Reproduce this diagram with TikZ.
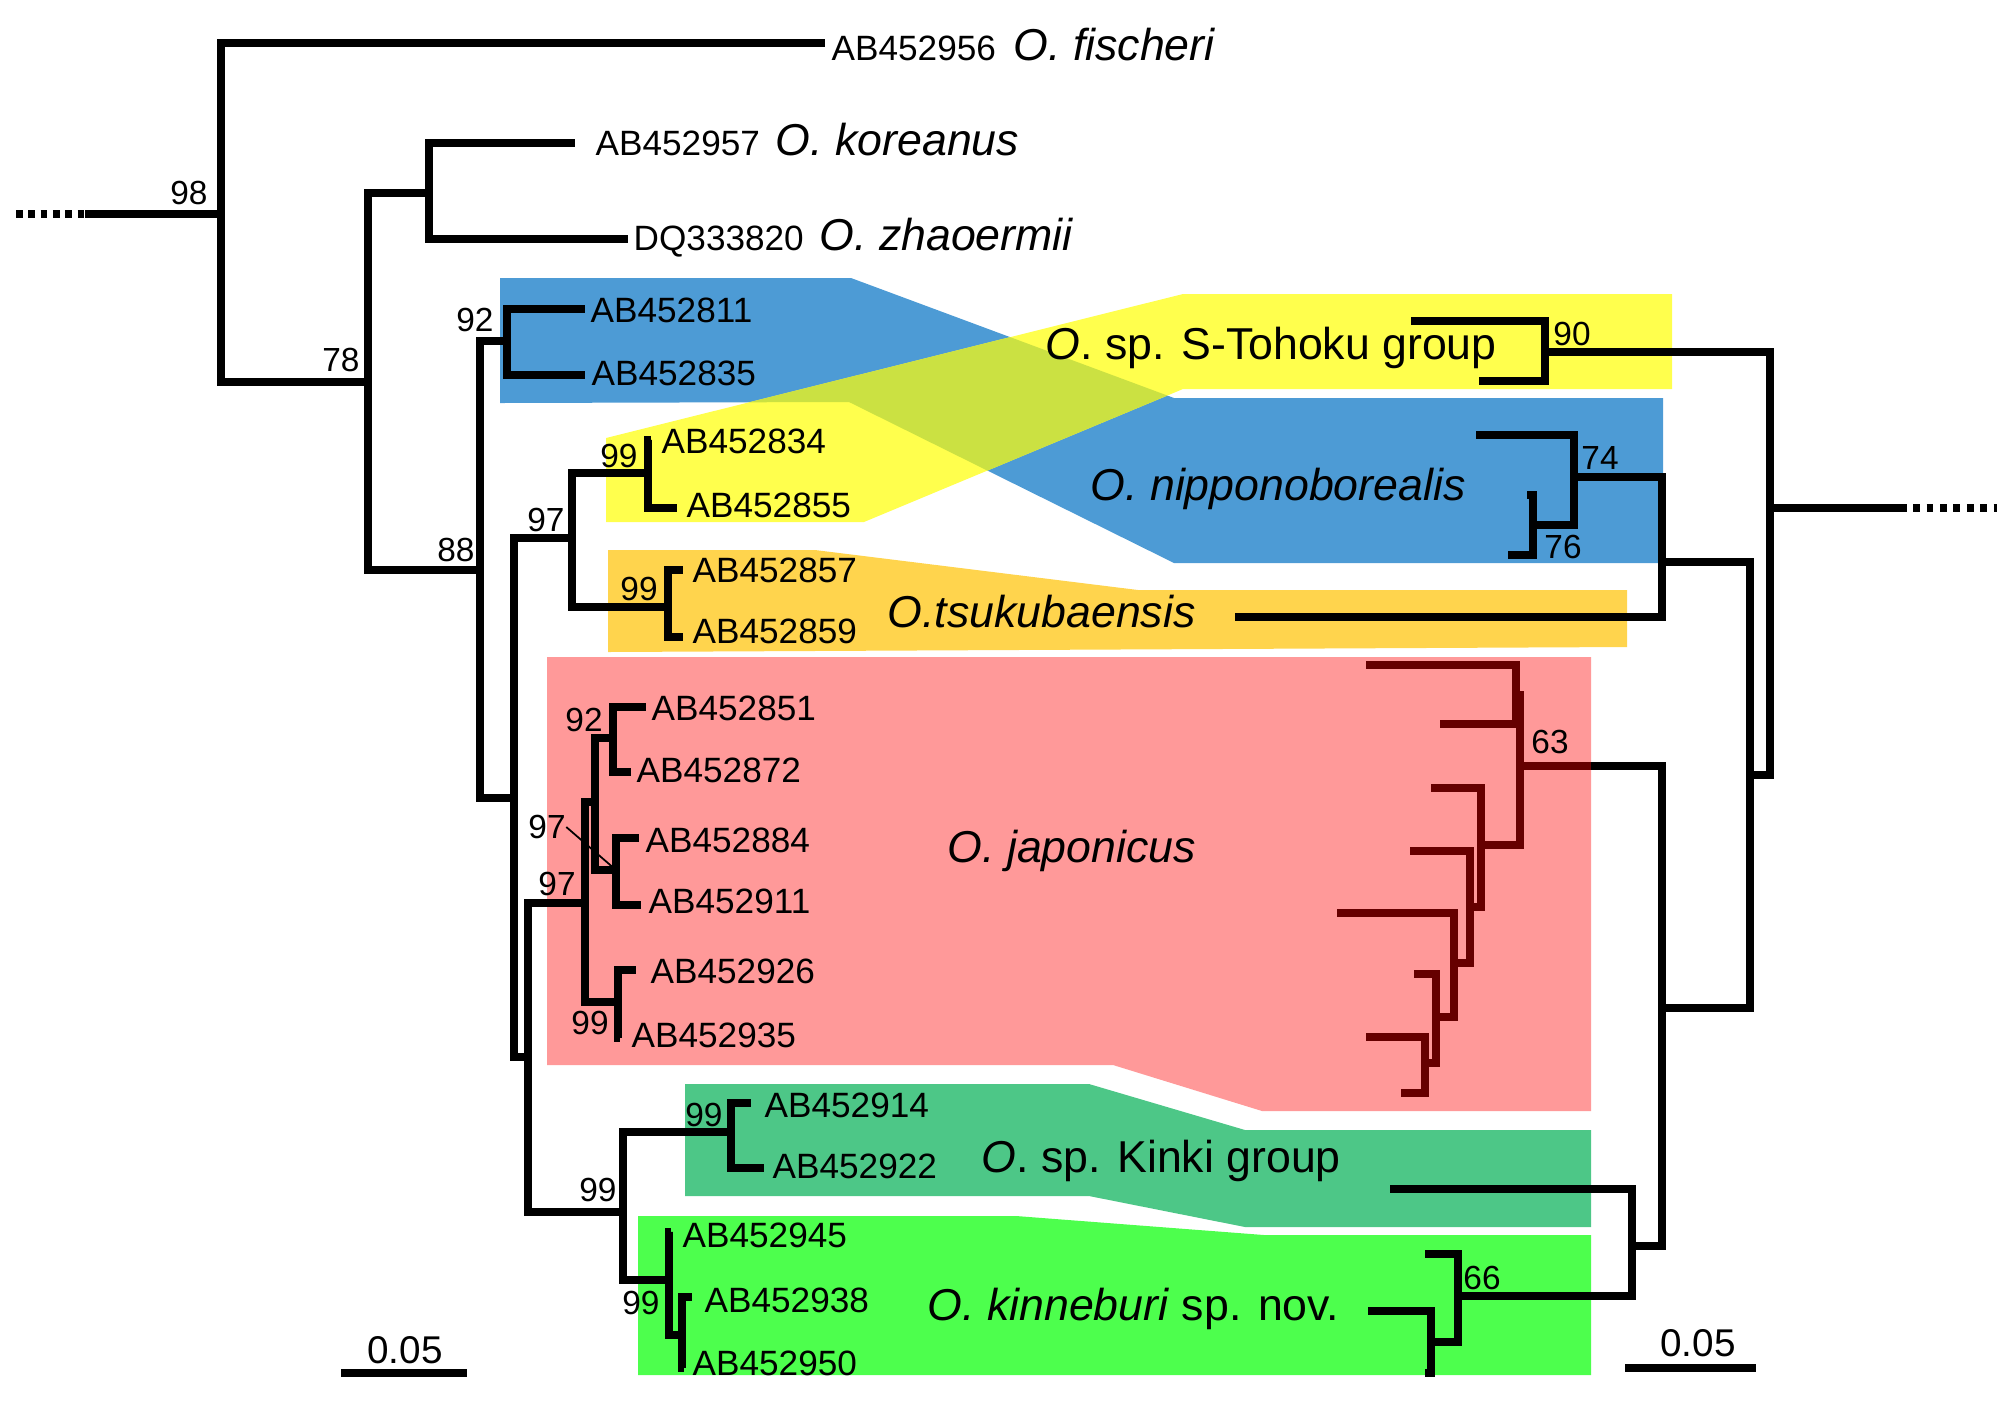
\documentclass[tikz,border=0pt]{standalone}
\usepackage{fontspec}
\setmainfont{Liberation Sans}
\usepackage{tikz}
\newcommand{\spsize}{\fontsize{12.7}{15}\selectfont}

\begin{document}
\begin{tikzpicture}[x=0.01cm,y=-0.01cm,
  br/.style={line width=2.1pt,line join=miter},
  brd/.style={br,draw=cdark},
  lead/.style={line width=0.5pt},
  ab/.style={inner sep=0,font=\fontsize{10}{12}\selectfont},
  spn/.style={inner sep=0,font=\spsize},
  bs/.style={inner sep=0,font=\fontsize{9.5}{11}\selectfont},
  sc/.style={inner sep=0,font=\fontsize{11}{13}\selectfont}]
\definecolor{cblue}{RGB}{77,155,213}
\definecolor{cyel}{RGB}{255,255,77}
\definecolor{cmix}{RGB}{203,225,66}
\definecolor{corg}{RGB}{255,212,77}
\definecolor{cred}{RGB}{255,153,153}
\definecolor{cteal}{RGB}{77,199,135}
\definecolor{cgrn}{RGB}{77,255,77}
\definecolor{cdark}{RGB}{102,0,0}
\useasboundingbox (0,0) rectangle (2008,1411);

% coloured bands
\fill[cblue] (500,278) -- (851,278) -- (1174,398) -- (1663,398) -- (1663,563) -- (1174,563) -- (849,402) -- (500,403) -- cycle;
\fill[cyel] (606,438) -- (1183,294) -- (1672,294) -- (1672,389) -- (1183,389) -- (864,522) -- (606,522) -- cycle;
\begin{scope}
\clip (500,278) -- (851,278) -- (1174,398) -- (1663,398) -- (1663,563) -- (1174,563) -- (849,402) -- (500,403) -- cycle;
\fill[cmix] (606,438) -- (1183,294) -- (1672,294) -- (1672,389) -- (1183,389) -- (864,522) -- (606,522) -- cycle;
\end{scope}
\fill[corg] (608,550) -- (815,550) -- (1138,590) -- (1627,590) -- (1627,647) -- (608,652) -- cycle;
\fill[cred] (547,657) -- (1591,657) -- (1591,1111) -- (1262,1111) -- (1113,1065) -- (547,1065) -- cycle;
\fill[cteal] (685,1084) -- (1089,1084) -- (1245,1130) -- (1591,1130) -- (1591,1227) -- (1245,1227) -- (1089,1196) -- (685,1196) -- cycle;
\fill[cgrn] (638,1216) -- (1016,1216) -- (1264,1235) -- (1591,1235) -- (1591,1375) -- (638,1375) -- cycle;

% left tree
\coordinate (rL0) at (16,214);
\coordinate (rL1) at (85,214);
\coordinate (n98) at (221,214);
\coordinate (tfis) at (825,43);
\coordinate (n78) at (368,382);
\coordinate (nkz) at (429,193);
\coordinate (tkor) at (575,143);
\coordinate (tzha) at (628,239);
\coordinate (n88) at (480,570);
\coordinate (n92) at (507,341);
\coordinate (t811) at (585,309);
\coordinate (t835) at (585,375);
\coordinate (nin) at (514,798);
\coordinate (n97) at (572,538);
\coordinate (n99y) at (648,473);
\coordinate (t834) at (651,440);
\coordinate (t855) at (677,508);
\coordinate (n99o) at (668,607);
\coordinate (t857) at (683,570);
\coordinate (t859) at (683,637);
\coordinate (nlow) at (528,1057);
\coordinate (njap) at (585,903);
\coordinate (nj97) at (595,802);
\coordinate (nj92) at (613,738);
\coordinate (t851) at (646,707);
\coordinate (t872) at (631,772);
\coordinate (nj84) at (616,870);
\coordinate (t884) at (639,838);
\coordinate (t911) at (641,905);
\coordinate (nj99) at (618,1002);
\coordinate (t926) at (636,970);
\coordinate (t935) at (620,1038);
\coordinate (nkk) at (623,1212);
\coordinate (nkin) at (731,1132);
\coordinate (t914) at (751,1103);
\coordinate (t922) at (764,1168);
\coordinate (nneb) at (669,1280);
\coordinate (t945) at (671,1232);
\coordinate (nneb2) at (682,1335);
\coordinate (t938) at (692,1297);
\coordinate (t950) at (684,1368);

\draw[line width=2.1pt,dash pattern=on 1.9pt off 1.6pt] (rL0) -- (rL1);
\draw[br] (rL1) -- (n98);
\foreach \p/\c in {n98/tfis,n98/n78,n78/nkz,nkz/tkor,nkz/tzha,n78/n88,n88/n92,
  n92/t811,n92/t835,n88/nin,nin/n97,n97/n99y,n99y/t834,n99y/t855,n97/n99o,
  n99o/t857,n99o/t859,nin/nlow,nlow/njap,njap/nj97,nj97/nj92,nj92/t851,
  nj92/t872,nj97/nj84,nj84/t884,nj84/t911,njap/nj99,nj99/t926,nj99/t935,
  nlow/nkk,nkk/nkin,nkin/t914,nkin/t922,nkk/nneb,nneb/t945,nneb/nneb2,
  nneb2/t938,nneb2/t950}
  \draw[br] (\p) |- (\c);

% right tree
\coordinate (rR1) at (1900,508);
\coordinate (rR0) at (1997,508);
\coordinate (nR) at (1770,508);
\coordinate (nst) at (1545,352);
\coordinate (tst1) at (1411,321);
\coordinate (tst2) at (1479,381);
\coordinate (nR2) at (1750,775);
\coordinate (nnt) at (1662,562);
\coordinate (nnip) at (1574,477);
\coordinate (tnp1) at (1476,435);
\coordinate (nn76) at (1533,525);
\coordinate (tnp2) at (1527,495);
\coordinate (tnp3) at (1508,555);
\coordinate (ttsu) at (1235,617);
\coordinate (njk) at (1662,1008);
\coordinate (n63) at (1520,766);
\coordinate (e63) at (1591,766);
\coordinate (nja) at (1516,695);
\coordinate (tja1) at (1366,665);
\coordinate (tja2) at (1440,724);
\coordinate (njc) at (1481,845);
\coordinate (tjc) at (1431,788);
\coordinate (njd) at (1470,907);
\coordinate (tjd) at (1410,851);
\coordinate (nje) at (1454,963);
\coordinate (tje) at (1337,913);
\coordinate (njf) at (1436,1017);
\coordinate (tjf) at (1414,974);
\coordinate (njg) at (1425,1063);
\coordinate (tjg1) at (1366,1037);
\coordinate (tjg2) at (1401,1093);
\coordinate (nkk2) at (1632,1246);
\coordinate (tkin) at (1390,1189);
\coordinate (n66) at (1458,1296);
\coordinate (tkb1) at (1425,1254);
\coordinate (nkb) at (1431,1342);
\coordinate (tkb2) at (1368,1311);
\coordinate (tkb3) at (1425,1373);

\draw[br] (nR) -- (rR1);
\draw[line width=2.1pt,dash pattern=on 1.9pt off 1.9pt] (rR1) -- (rR0);
\foreach \p/\c in {nR/nst,nst/tst1,nst/tst2,nR/nR2,nR2/nnt,nnt/nnip,nnip/tnp1,
  nnip/nn76,nn76/tnp2,nn76/tnp3,nnt/ttsu,nR2/njk,njk/n63,njk/nkk2,nkk2/tkin,
  nkk2/n66,n66/tkb1,n66/nkb,nkb/tkb2,nkb/tkb3}
  \draw[br] (\p) |- (\c);
\draw[brd] (n63) -- (e63);
\foreach \p/\c in {n63/nja,nja/tja1,nja/tja2,n63/njc,njc/tjc,njc/njd,njd/tjd,
  njd/nje,nje/tje,nje/njf,njf/tjf,njf/njg,njg/tjg1,njg/tjg2}
  \draw[brd] (\p) |- (\c);

% tip labels
\node[ab,anchor=base west] (lfis) at (831,60) {AB452956\hspace{5pt}{\spsize\itshape O. fischeri}};
\node[ab,anchor=base west] (lkor) at (595,155) {AB452957\hspace{4.5pt}{\spsize\itshape O. koreanus}};
\node[ab,anchor=base west] (lzha) at (633,250) {DQ333820\hspace{4.5pt}{\spsize\itshape O. zhaoermii}};
\node[ab,anchor=base west] (l811) at (590,322) {AB452811};
\node[ab,anchor=base west] (l835) at (591,385) {AB452835};
\node[ab,anchor=base west] (l834) at (661,453) {AB452834};
\node[ab,anchor=base west] (l855) at (686,517) {AB452855};
\node[ab,anchor=base west] (l857) at (692,582) {AB452857};
\node[ab,anchor=base west] (l859) at (692,643) {AB452859};
\node[ab,anchor=base west] (l851) at (651,720) {AB452851};
\node[ab,anchor=base west] (l872) at (636,782) {AB452872};
\node[ab,anchor=base west] (l884) at (645,852) {AB452884};
\node[ab,anchor=base west] (l911) at (648,913) {AB452911};
\node[ab,anchor=base west] (l926) at (650,983) {AB452926};
\node[ab,anchor=base west] (l935) at (631,1047) {AB452935};
\node[ab,anchor=base west] (l914) at (764,1117) {AB452914};
\node[ab,anchor=base west] (l922) at (772,1178) {AB452922};
\node[ab,anchor=base west] (l945) at (682,1247) {AB452945};
\node[ab,anchor=base west] (l938) at (704,1312) {AB452938};
\node[ab,anchor=base west] (l950) at (692,1375) {AB452950};

% group names
\node[spn,anchor=base west] (gst) at (1045,359) {\textit{O}. sp. S-Tohoku group};
\node[spn,anchor=base west] (gnip) at (1090,500) {\textit{O. nipponoborealis}};
\node[spn,anchor=base west] (gtsu) at (887,627) {\textit{O.tsukubaensis}};
\node[spn,anchor=base west] (gjap) at (947,862) {\textit{O. japonicus}};
\node[spn,anchor=base west] (gkin) at (981,1172) {\textit{O}. sp. Kinki group};
\node[spn,anchor=base west] (gneb) at (927,1320) {\textit{O. kinneburi} sp. nov.};

% bootstrap values
\node[bs] (b98) at (189,193) {98};
\node[bs] (b78) at (341,360) {78};
\node[bs] (b92) at (475,320) {92};
\node[bs] (b88) at (456,550) {88};
\node[bs] (b97) at (546,520) {97};
\node[bs] (b99y) at (619,456) {99};
\node[bs] (b99o) at (639,589) {99};
\node[bs] (b92j) at (584,720) {92};
\node[bs] (b97u) at (547,827) {97};
\node[bs] (b97l) at (557,884) {97};
\node[bs] (b99j) at (590,1023) {99};
\node[bs] (b99k) at (598,1190) {99};
\node[bs] (b99kin) at (704,1115) {99};
\node[bs] (b99neb) at (641,1303) {99};
\node[bs] (b90) at (1572,334) {90};
\node[bs] (b74) at (1600,458) {74};
\node[bs] (b76) at (1563,547) {76};
\node[bs] (b63) at (1550,742) {63};
\node[bs] (b66) at (1482,1278) {66};
\draw[lead] (b97u.east) -- (nj84);

% scale bars
\coordinate (sL0) at (341,1373);
\coordinate (sL1) at (467,1373);
\coordinate (sR0) at (1625,1368);
\coordinate (sR1) at (1756,1368);
\draw[line width=2.3pt] (sL0) -- (sL1);
\draw[line width=2.3pt] (sR0) -- (sR1);
\node[sc,anchor=base] (scL) at (405,1363) {0.05};
\node[sc,anchor=base] (scR) at (1698,1356) {0.05};
\end{tikzpicture}
\end{document}
